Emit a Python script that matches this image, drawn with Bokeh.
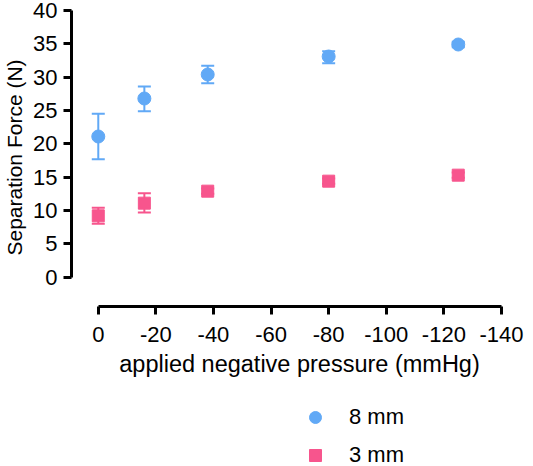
from bokeh.plotting import figure
from bokeh.layouts import column
from bokeh.models import ColumnDataSource, Range1d, Whisker, TeeHead, Legend, LegendItem, FixedTicker
from bokeh.embed import file_html
from bokeh.resources import INLINE

# Data
pressure = [0, -16, -38, -80, -125]
force_8mm = [21.1, 26.8, 30.4, 33.1, 34.9]
upper_8mm = [24.5, 28.6, 31.7, 33.9, 35.3]
lower_8mm = [17.7, 24.9, 29.1, 32.1, 34.5]
force_3mm = [9.2, 11.1, 12.9, 14.4, 15.3]
upper_3mm = [10.4, 12.6, 13.3, 14.8, 15.7]
lower_3mm = [8.0, 9.7, 12.5, 14.0, 14.9]
x_ticks = [0, -20, -40, -60, -80, -100, -120, -140]
x_tick_labels = ["0", "-20", "-40", "-60", "-80", "-100", "-120", "-140"]
y_ticks = [0, 5, 10, 15, 20, 25, 30, 35, 40]
series_labels = ["8 mm", "3 mm"]

BLUE = "#61a9f6"
PINK = "#f7558d"
FONT = "Liberation Sans"

src8 = ColumnDataSource(dict(x=pressure, y=force_8mm, up=upper_8mm, lo=lower_8mm))
src3 = ColumnDataSource(dict(x=pressure, y=force_3mm, up=upper_3mm, lo=lower_3mm))

p = figure(width=533, height=386, output_backend="svg", toolbar_location=None,
           x_range=Range1d(9.3, -149.05), y_range=Range1d(-4.4, 40.3),
           min_border_top=8, min_border_left=67, min_border_right=6, min_border_bottom=80)
p.outline_line_color = None
p.xgrid.visible = False
p.ygrid.visible = False

for src, col in ((src8, BLUE), (src3, PINK)):
    w = Whisker(source=src, base="x", upper="up", lower="lo", dimension="height",
                line_color=col, line_width=2,
                upper_head=TeeHead(size=13, line_color=col, line_width=2),
                lower_head=TeeHead(size=13, line_color=col, line_width=2))
    p.add_layout(w)

p.scatter("x", "y", source=src8, marker="circle", size=13, color=BLUE)
p.scatter("x", "y", source=src3, marker="square", size=12, color=PINK)

for ax, ticks in ((p.xaxis[0], x_ticks), (p.yaxis[0], y_ticks)):
    ax.ticker = FixedTicker(ticks=ticks)
    ax.axis_line_width = 3
    ax.major_tick_line_width = 3
    ax.major_tick_out = 8
    ax.major_tick_in = 0
    ax.minor_tick_line_color = None
    ax.major_label_text_font = FONT
    ax.major_label_text_font_size = "22px"
    ax.major_label_text_color = "black"
    ax.axis_label_text_font = FONT
    ax.axis_label_text_font_style = "normal"
    ax.axis_label_text_color = "black"

p.xaxis.major_label_overrides = dict(zip(x_ticks, x_tick_labels))
p.xaxis.bounds = (-140, 0)
p.yaxis.bounds = (0, 40)
p.xaxis.axis_label = "applied negative pressure (mmHg)"
p.yaxis.axis_label = "Separation Force (N)"
p.xaxis.axis_label_text_font_size = "23.5px"
p.yaxis.axis_label_text_font_size = "21px"
p.xaxis.major_label_standoff = 12
p.xaxis.axis_label_standoff = 6
p.yaxis.major_label_standoff = 6
p.yaxis.axis_label_standoff = 4

# legend panel below the chart (proxy renderers hidden, legend keys drawn)
lg = figure(width=533, height=80, output_backend="svg", toolbar_location=None,
            x_range=Range1d(0, 1), y_range=Range1d(0, 1),
            x_axis_location=None, y_axis_location=None,
            min_border=0, outline_line_color=None)
lg.xgrid.visible = False
lg.ygrid.visible = False
k8 = lg.scatter(pressure, force_8mm, marker="circle", size=12, color=BLUE, visible=False)
k3 = lg.scatter(pressure, force_3mm, marker="square", size=11, color=PINK, visible=False)
legend = Legend(items=[LegendItem(label=series_labels[0], renderers=[k8]),
                       LegendItem(label=series_labels[1], renderers=[k3])],
                location=(229, -4), orientation="vertical",
                label_text_font=FONT, label_text_font_size="22px", label_text_color="black",
                label_standoff=19, spacing=8, padding=0, margin=0,
                border_line_color=None, background_fill_alpha=0,
                inactive_fill_alpha=0,
                glyph_width=30, glyph_height=30, label_height=30)
lg.add_layout(legend)

layout = column(p, lg, spacing=0)
open("out.html", "w").write(file_html(layout, INLINE))
